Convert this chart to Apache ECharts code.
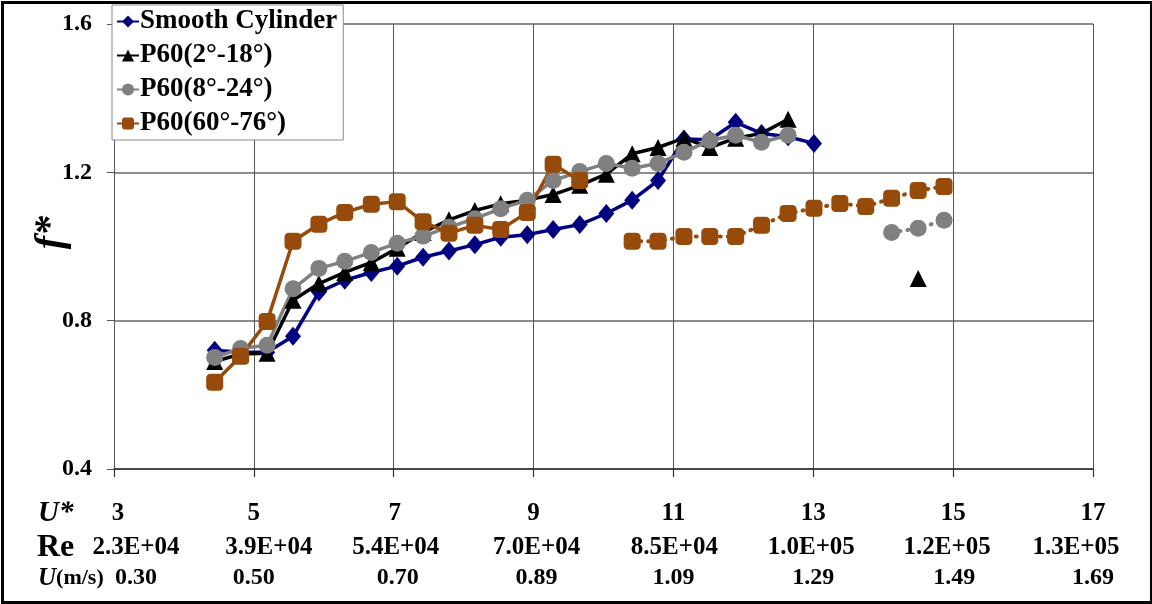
<!DOCTYPE html>
<html>
<head>
<meta charset="utf-8">
<script src="https://cdn.jsdelivr.net/npm/echarts@6/dist/echarts.min.js"></script>
<style>
html,body{margin:0;padding:0;background:#fff;}
#chart{width:1152px;height:604px;}
</style>
</head>
<body>
<div id="chart"></div>
<script>
// ---- data ----
const uStar = [4.44, 4.81, 5.19, 5.56, 5.93, 6.30, 6.68, 7.05, 7.42, 7.79, 8.16, 8.53, 8.91, 9.28, 9.66, 10.04, 10.41, 10.78, 11.15, 11.52, 11.89, 12.26, 12.64, 13.01, 13.38, 13.75, 14.12, 14.50, 14.87];
const smoothCylinder = [0.720, 0.715, 0.715, 0.758, 0.877, 0.909, 0.930, 0.947, 0.971, 0.988, 1.005, 1.025, 1.032, 1.046, 1.059, 1.089, 1.125, 1.178, 1.290, 1.288, 1.335, 1.305, 1.296, 1.278, null, null, null, null, null];
const p60a = [0.690, 0.710, 0.712, 0.855, 0.900, 0.930, 0.957, 0.995, 1.038, 1.072, 1.097, 1.115, 1.125, 1.140, 1.165, 1.195, 1.250, 1.267, 1.292, 1.267, 1.292, 1.305, 1.343, null, null, null, null, null, null];
const p60aExtra = [null, null, null, null, null, null, null, null, null, null, null, null, null, null, null, null, null, null, null, null, null, null, null, null, null, null, null, 0.914, null];
const p60b = [0.701, 0.725, 0.734, 0.886, 0.941, 0.960, 0.984, 1.009, 1.028, 1.052, 1.075, 1.102, 1.125, 1.178, 1.202, 1.224, 1.211, 1.224, 1.254, 1.286, 1.300, 1.281, 1.300, null, null, null, null, null, null];
const p60bDotted = [null, null, null, null, null, null, null, null, null, null, null, null, null, null, null, null, null, null, null, null, null, null, null, null, null, null, 1.038, 1.049, 1.071];
const p60c = [0.634, 0.704, 0.798, 1.014, 1.060, 1.092, 1.114, 1.121, 1.067, 1.036, 1.057, 1.046, 1.092, 1.222, 1.178, null, null, null, null, null, null, null, null, null, null, null, null, null, null];
const p60cDotted = [null, null, null, null, null, null, null, null, null, null, null, null, null, null, null, null, 1.014, 1.014, 1.027, 1.027, 1.027, 1.057, 1.089, 1.103, 1.116, 1.108, 1.130, 1.151, 1.162];

const seriesNames = ['Smooth Cylinder', 'P60(2°-18°)', 'P60(8°-24°)', 'P60(60°-76°)'];
const uStarTicks = ['3', '5', '7', '9', '11', '13', '15', '17'];
const reTicks = ['2.3E+04', '3.9E+04', '5.4E+04', '7.0E+04', '8.5E+04', '1.0E+05', '1.2E+05', '1.3E+05'];
const speedTicks = ['0.30', '0.50', '0.70', '0.89', '1.09', '1.29', '1.49', '1.69'];
const yTicks = [0.4, 0.8, 1.2, 1.6];

// ---- build ----
function pairs(arr) {
  return uStar.map((u, i) => [u, arr[i]]).filter(p => p[1] !== null);
}
const FONT = '"Liberation Serif", "Times New Roman", serif';
const NAVY = '#000080', BLACK = '#000000', GRAY = '#808080', BROWN = '#974B0B';

const uShift = [4, 0, 1, 0, 0, 0, 0, 0];
const reShift = [22, 15, 2, 3, 1, -2, -6, -17];
const spShift = [22, 0, 4, 3, 0, 0, 1, 0];
function richFor(prefix, shifts, size) {
  const r = {};
  shifts.forEach((s, i) => {
    r[prefix + i] = {
      fontFamily: FONT, fontWeight: 'bold', fontSize: size, color: '#000',
      padding: s >= 0 ? [0, 0, 0, 2 * s] : [0, -2 * s, 0, 0]
    };
  });
  return r;
}
const tickIdx = v => Math.round((v - 3) / 2);

function lineSeries(name, arr, color, symbol, size, dotted) {
  return {
    name: name, type: 'line', xAxisIndex: 0, yAxisIndex: 0,
    data: pairs(arr),
    symbol: symbol, symbolSize: size,
    showAllSymbol: true,
    itemStyle: { color: color },
    lineStyle: dotted ? { color: color, width: 4, type: [1, 7], cap: 'round' } : { color: color, width: 3.5 },
    emphasis: { disabled: true },
    animation: false
  };
}

const baseX = { type: 'value', min: 3, max: 17, interval: 2, gridIndex: 0, position: 'bottom', offset: 0 };

const option = {
  animation: false,
  backgroundColor: '#fff',
  grid: { left: 114, right: 59, top: 24, bottom: 135, containLabel: false, outerBoundsMode: 'none' },
  legend: {
    orient: 'vertical', left: 112, top: 5,
    data: seriesNames,
    itemWidth: 22, itemHeight: 15, itemGap: 7,
    backgroundColor: '#fff', borderColor: '#8a8a8a', borderWidth: 1,
    padding: [3, 6, 3, 4],
    textStyle: { fontFamily: FONT, fontWeight: 'bold', fontSize: 27, color: '#000', padding: [0, 0, 0, -4] }
  },
  xAxis: [
    Object.assign({}, baseX, {
      axisLine: { show: true, onZero: false, lineStyle: { color: '#333', width: 1.5 } },
      axisTick: { show: true, length: 8, lineStyle: { color: '#333', width: 1.2 } },
      splitLine: { show: true, lineStyle: { color: '#555', width: 1 } },
      axisLabel: {
        margin: 32, formatter: v => '{u' + tickIdx(v) + '|' + uStarTicks[tickIdx(v)] + '}',
        rich: richFor('u', uShift, 25)
      }
    }),
    Object.assign({}, baseX, {
      axisLine: { show: false, onZero: false }, axisTick: { show: false }, splitLine: { show: false },
      axisLabel: {
        margin: 66, formatter: v => '{r' + tickIdx(v) + '|' + reTicks[tickIdx(v)] + '}',
        rich: richFor('r', reShift, 25)
      }
    }),
    Object.assign({}, baseX, {
      axisLine: { show: false, onZero: false }, axisTick: { show: false }, splitLine: { show: false },
      axisLabel: {
        margin: 97, formatter: v => '{s' + tickIdx(v) + '|' + speedTicks[tickIdx(v)] + '}',
        rich: richFor('s', spShift, 24)
      }
    })
  ],
  yAxis: {
    type: 'value', min: yTicks[0], max: yTicks[yTicks.length - 1], interval: 0.4,
    axisLine: { show: true, lineStyle: { color: '#555', width: 1 } },
    axisTick: { show: true, length: 7, lineStyle: { color: '#555' } },
    splitLine: { show: true, lineStyle: { color: '#8c8c8c', width: 1.8 } },
    axisLabel: {
      margin: 22, fontFamily: FONT, fontWeight: 'bold', fontSize: 24, color: '#000',
      formatter: v => v.toFixed(1)
    }
  },
  graphic: [
    { type: 'rect', left: 0, top: 0, z: 100, silent: true,
      shape: { x: 1, y: 1.5, width: 1149, height: 600 },
      style: { fill: 'none', stroke: '#000', lineWidth: 3 } },
    { type: 'text', left: 32, top: 216, rotation: Math.PI / 2,
      style: { text: 'f*', font: 'italic bold 40px ' + FONT, fill: '#000' } },
    { type: 'text', left: 38, top: 499,
      style: { text: 'U*', font: 'italic bold 29px ' + FONT, fill: '#000' } },
    { type: 'text', left: 37, top: 532,
      style: { text: 'Re', font: 'bold 32px ' + FONT, fill: '#000' } },
    { type: 'text', left: 38, top: 566,
      style: {
        text: '{i|U}{n|(m/s)}',
        rich: {
          i: { fontFamily: FONT, fontStyle: 'italic', fontWeight: 'bold', fontSize: 25, fill: '#000' },
          n: { fontFamily: FONT, fontWeight: 'bold', fontSize: 22, fill: '#000' }
        }
      } }
  ],
  series: [
    lineSeries(seriesNames[0], smoothCylinder, NAVY, 'diamond', [16, 19], false),
    lineSeries(seriesNames[1], p60a, BLACK, 'triangle', 17, false),
    lineSeries(seriesNames[1], p60aExtra, BLACK, 'triangle', 17, false),
    lineSeries(seriesNames[2], p60b, GRAY, 'circle', 17, false),
    lineSeries(seriesNames[2], p60bDotted, GRAY, 'circle', 17, true),
    lineSeries(seriesNames[3], p60c, BROWN, 'roundRect', 17, false),
    lineSeries(seriesNames[3], p60cDotted, BROWN, 'roundRect', 17, true)
  ]
};

const chart = echarts.init(document.getElementById('chart'), null, { renderer: 'canvas' });
chart.setOption(option);
</script>
</body>
</html>
